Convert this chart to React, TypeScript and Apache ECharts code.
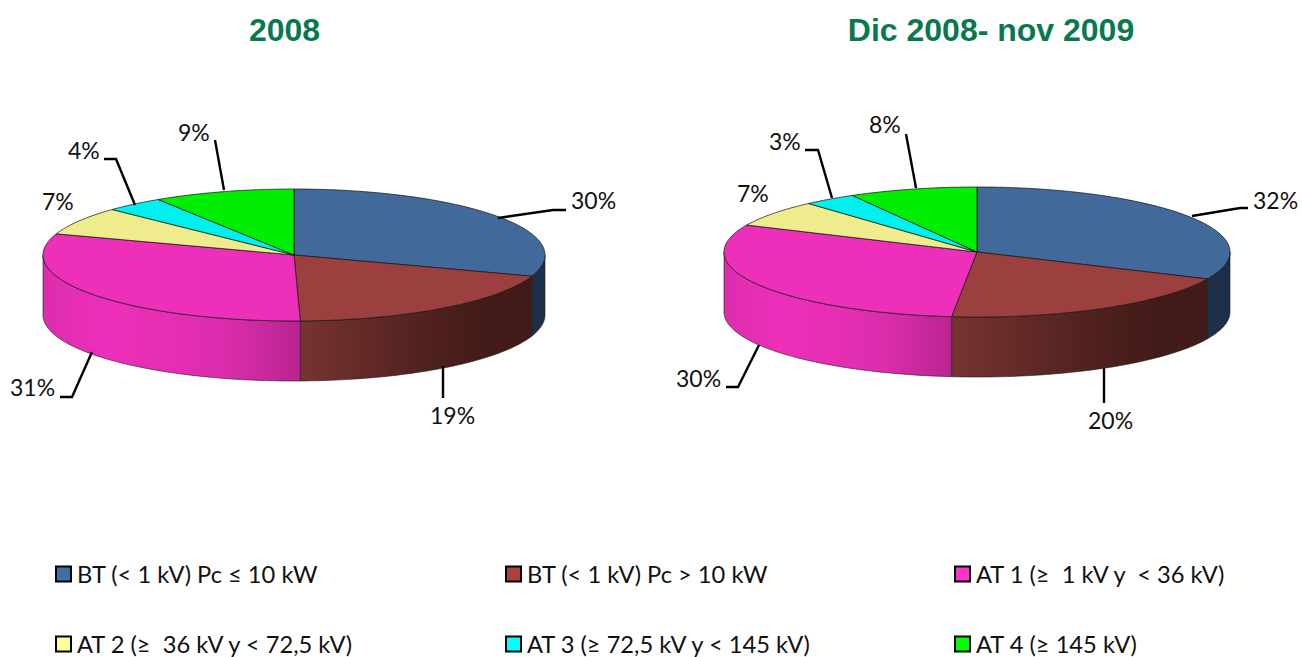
import React, { useEffect, useRef } from "react";
import * as echarts from "echarts";

const categories = [
  "BT (< 1 kV) Pc ≤ 10 kW",
  "BT (< 1 kV) Pc > 10 kW",
  "AT 1 (≥  1 kV y  < 36 kV)",
  "AT 2 (≥  36 kV y < 72,5 kV)",
  "AT 3 (≥ 72,5 kV y < 145 kV)",
  "AT 4 (≥ 145 kV)",
];
const pieTitles = ["2008", "Dic 2008- nov 2009"];
const values2008 = [30.2, 19.4, 30.6, 6.9, 3.8, 9.1];
const values2009 = [31.8, 19.8, 30.2, 6.6, 3.4, 8.2];
const pieValues = [values2008, values2009];

const topColors = ["#416a9b", "#9c403f", "#ee2fba", "#eeec8c", "#00efef", "#00ee00"];
const legendColors = ["#3f6fa8", "#a8423f", "#ff33cc", "#ffff99", "#00ffff", "#00ff00"];
const legendLefts = [55, 505, 954, 55, 505, 954];
const legendTops = [562, 562, 562, 632, 632, 632];

const pieGeometry = [
  { cx: 294, cy: 255, rx: 251, ry: 66, depth: 60, titleX: 279.5 },
  { cx: 977, cy: 252, rx: 253, ry: 65, depth: 60, titleX: 986 },
];
// Label layout per pie and category: label left edge, label centre y, leader polyline.
const labelLayout: { x: number; y: number; line: number[][] }[][] = [
  [
    { x: 571, y: 200, line: [[498, 218], [553, 210], [566, 210]] },
    { x: 430, y: 415, line: [[443, 366], [443, 398]] },
    { x: 10, y: 387, line: [[92, 352], [72, 397], [60, 397]] },
    { x: 42, y: 201, line: [] },
    { x: 68, y: 150, line: [[135, 205], [116, 159], [104, 159]] },
    { x: 178, y: 132, line: [[224, 190], [215, 140]] },
  ],
  [
    { x: 1253, y: 200, line: [[1192, 216], [1240, 208], [1248, 208]] },
    { x: 1088, y: 420, line: [[1104, 368], [1104, 403]] },
    { x: 676, y: 378, line: [[759, 345], [738, 387], [726, 387]] },
    { x: 737, y: 193, line: [] },
    { x: 769, y: 141, line: [[832, 198], [818, 150], [805, 150]] },
    { x: 869, y: 124, line: [[916, 188], [906, 134]] },
  ],
];

const sideFills = [
  "#1c3049",
  new echarts.graphic.LinearGradient(0, 0, 1, 0, [
    { offset: 0, color: "#763431" },
    { offset: 0.55, color: "#4f211f" },
    { offset: 0.8, color: "#431b18" },
    { offset: 1, color: "#421a17" },
  ]),
  new echarts.graphic.LinearGradient(0, 0, 1, 0, [
    { offset: 0, color: "#dc2dad" },
    { offset: 0.25, color: "#ee2fba" },
    { offset: 0.7, color: "#dc2dad" },
    { offset: 1, color: "#b8248f" },
  ]),
  "#000",
  "#000",
  "#000",
];

const LABEL_FONT = "Lato";

function arc(g: (typeof pieGeometry)[0], a0: number, a1: number, dy = 0) {
  const steps = Math.max(2, Math.ceil(Math.abs(a1 - a0) / 0.02));
  const pts: number[][] = [];
  for (let i = 0; i <= steps; i++) {
    const t = a0 + ((a1 - a0) * i) / steps;
    pts.push([g.cx + g.rx * Math.sin(t), g.cy - g.ry * Math.cos(t) + dy]);
  }
  return pts;
}

function makeRenderItem(catIndex: number) {
  return (_params: any, api: any) => {
    const value = api.value(0);
    const start = api.value(1);
    const pie = api.value(2);
    const g = pieGeometry[pie];
    const a0 = (start / 100) * Math.PI * 2;
    const a1 = ((start + value) / 100) * Math.PI * 2;
    const children: any[] = [];

    const sA = Math.max(a0, Math.PI / 2);
    const sB = Math.min(a1, (Math.PI * 3) / 2);
    if (sB > sA) {
      const topEdge = arc(g, sA, sB);
      const bottomEdge = arc(g, sB, sA, g.depth);
      children.push({
        type: "polygon",
        shape: { points: topEdge.concat(bottomEdge) },
        style: { fill: sideFills[catIndex], stroke: "#1a1a1a", lineWidth: 0.6 },
      });
    }
    children.push({
      type: "polygon",
      shape: { points: [[g.cx, g.cy] as number[]].concat(arc(g, a0, a1)) },
      style: { fill: topColors[catIndex], stroke: "#111", lineWidth: 0.7 },
    });
    const layout = labelLayout[pie][catIndex];
    if (layout.line.length) {
      children.push({
        type: "polyline",
        shape: { points: layout.line },
        style: { fill: "none", stroke: "#000", lineWidth: 2.4 },
      });
    }
    children.push({
      type: "text",
      style: {
        text: Math.round(value) + "%",
        x: layout.x,
        y: layout.y,
        fill: "#111",
        fontSize: 23,
        fontFamily: LABEL_FONT,
        align: "left",
        verticalAlign: "middle",
      },
    });
    return { type: "group", children };
  };
}

export default function App() {
  const ref = useRef<HTMLDivElement>(null);
  useEffect(() => {
    document.body.style.margin = "0";
    const chart = echarts.init(ref.current!, null, { renderer: "svg" });
    const series = categories.map((name, c) => ({
      type: "custom",
      name,
      coordinateSystem: "none",
      silent: true,
      itemStyle: { color: legendColors[c] },
      renderItem: makeRenderItem(c),
      data: pieValues.map((vals, p) => [
        vals[c],
        vals.slice(0, c).reduce((a, b) => a + b, 0),
        p,
      ]),
    }));
    chart.setOption({
      animation: false,
      backgroundColor: "#fff",
      title: pieTitles.map((text, i) => ({
        text,
        left: pieGeometry[i].titleX,
        top: 9,
        textAlign: "center",
        textStyle: {
          color: "#08794f",
          fontFamily: "Liberation Sans",
          fontWeight: "bold",
          fontSize: 32,
        },
      })),
      legend: categories.map((name, c) => ({
        show: true,
        left: legendLefts[c],
        top: legendTops[c],
        padding: 0,
        itemWidth: 15,
        itemHeight: 15,
        selectedMode: false,
        icon: "rect",
        textStyle: {
          fontFamily: LABEL_FONT,
          fontSize: 23.7,
          color: "#111",
          padding: [0, 0, 4, 1],
        },
        data: [
          {
            name,
            itemStyle: { color: legendColors[c], borderColor: "#000", borderWidth: 2 },
          },
        ],
      })),
      series,
    });
    return () => chart.dispose();
  }, []);
  return <div ref={ref} style={{ width: 1302, height: 657, display: "block" }} />;
}
